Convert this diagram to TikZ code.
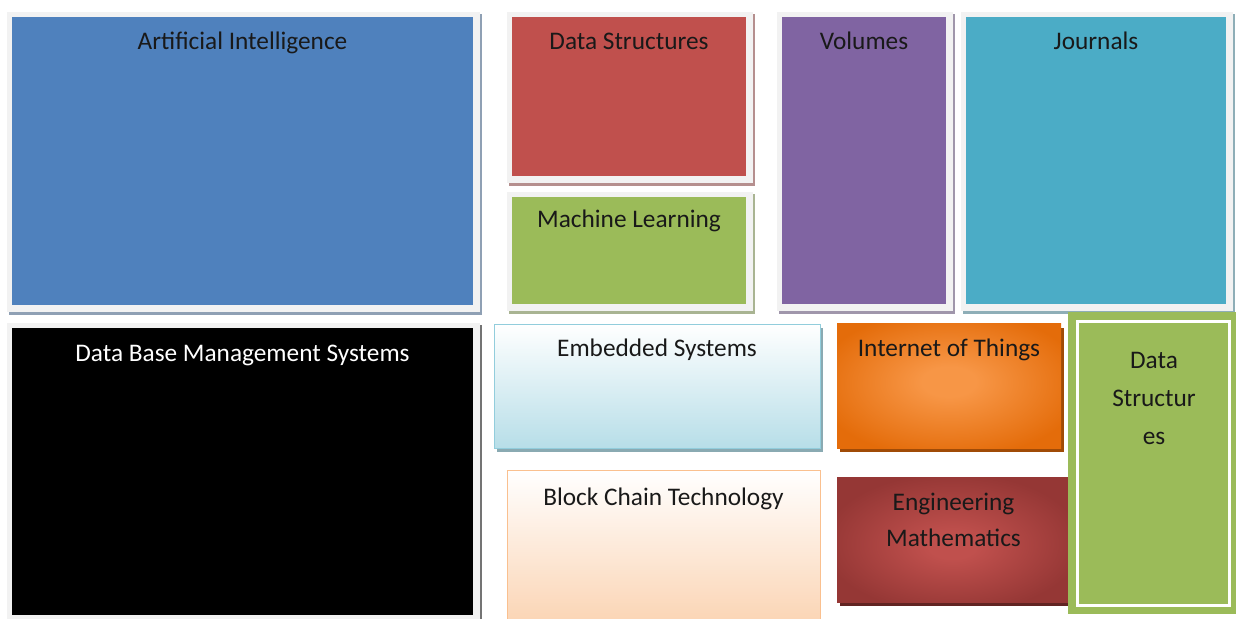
\documentclass[tikz,border=0pt]{standalone}
\usepackage{fontspec}
\setmainfont{Carlito}
\usetikzlibrary{calc,backgrounds}

\definecolor{aiblue}{HTML}{4F81BD}
\definecolor{dsred}{HTML}{C0504D}
\definecolor{mlgreen}{HTML}{9BBB59}
\definecolor{volpurple}{HTML}{8064A2}
\definecolor{jrnteal}{HTML}{4BACC6}
\definecolor{esblue}{HTML}{B7DEE8}
\definecolor{esline}{HTML}{92CDDC}
\definecolor{bcpeach}{HTML}{FBD5B5}
\definecolor{bcline}{HTML}{FAC08F}
\definecolor{iotlight}{HTML}{F79646}
\definecolor{iotdark}{HTML}{E46C0A}
\definecolor{emlight}{HTML}{C0504D}
\definecolor{emdark}{HTML}{953735}

% soft glow in the middle of a tile
\pgfdeclareradialshading{iotglow}{\pgfpoint{0bp}{2bp}}{color(0bp)=(iotlight); color(6bp)=(iotlight); color(30bp)=(iotdark); color(50bp)=(iotdark)}
\pgfdeclareradialshading{emglow}{\pgfpoint{0bp}{-3bp}}{color(0bp)=(emlight); color(5bp)=(emlight); color(28bp)=(emdark); color(50bp)=(emdark)}

\tikzset{
  tile/.style={
    rectangle,
    anchor=north west,
    inner sep=0mm,
    outer sep=0mm
  },
  caption/.style={
    anchor=base,
    align=center,
    inner sep=0mm,
    font=\fontsize{14.4}{20}\selectfont,
    text=black!90
  }
}

\begin{document}
\begin{tikzpicture}[x=0.2mm,y=-0.2mm]
    \useasboundingbox (0,0) rectangle (1236,619);

    % upper row
    \node[tile,fill=aiblue,minimum width=92.2mm,minimum height=57.6mm] (ai) at (12,17) {};
    \node[tile,fill=dsred,minimum width=46.8mm,minimum height=31.8mm] (ds) at (512,17) {};
    \node[tile,fill=mlgreen,minimum width=46.8mm,minimum height=21.4mm] (ml) at (512,197) {};
    \node[tile,fill=volpurple,minimum width=32.8mm,minimum height=57.4mm] (vol) at (782,17) {};
    \node[tile,fill=jrnteal,minimum width=52mm,minimum height=57.4mm] (jrn) at (966,17) {};

    % lower row
    \node[tile,fill=black,minimum width=92.2mm,minimum height=57.4mm] (db) at (12,328) {};
    \node[tile,draw=esline,top color=white,bottom color=esblue,minimum width=65.2mm,minimum height=24.8mm] (es) at (494,324) {};
    \node[tile,draw=bcline,top color=white,bottom color=bcpeach,minimum width=62.6mm,minimum height=30.4mm] (bc) at (507,470) {};
    \node[tile,shading=iotglow,minimum width=44.8mm,minimum height=24.8mm] (iot) at (837,324) {};
    \node[tile,shading=emglow,minimum width=46.2mm,minimum height=25mm] (em) at (837,477) {};
    \node[tile,fill=mlgreen,minimum width=33.6mm,minimum height=60.4mm] (dsg) at (1068,312) {};
    \draw[white,line width=0.6mm] ($(dsg.north west)+(9,10)$) rectangle ($(dsg.south east)+(-7,-9)$);

    % captions (base of the last line)
    \node[caption] (ai-t) at ($(ai.north)+(0,33)$) {Artificial Intelligence};
    \node[caption] (ds-t) at ($(ds.north)+(0,33)$) {Data Structures};
    \node[caption] (ml-t) at ($(ml.north)+(0,31)$) {Machine Learning};
    \node[caption] (vol-t) at ($(vol.north)+(0,33)$) {Volumes};
    \node[caption] (jrn-t) at ($(jrn.north)+(0,33)$) {Journals};
    \node[caption,text=white] (db-t) at ($(db.north)+(0,34)$) {Data Base Management Systems};
    \node[caption] (es-t) at ($(es.north)+(0,33)$) {Embedded Systems};
    \node[caption] (bc-t) at ($(bc.north)+(0,35)$) {Block Chain Technology};
    \node[caption] (iot-t) at ($(iot.north)+(0,33)$) {Internet of Things};
    \node[caption] (em-t) at ($(em.north)+(1,69)$) {Engineering\\Mathematics};
    \node[caption,font=\fontsize{14.4}{21.5}\selectfont] (dsg-t) at ($(dsg.north)+(2,132)$) {Data\\Structur\\es};

    % grey frames and drop shadows
    \begin{scope}[on background layer]
        \fill[white] (0,0) rectangle (1236,619);
        \foreach \t/\c in {ai/aiblue,db/black,ds/dsred,ml/mlgreen,vol/volpurple,jrn/jrnteal}{
            \fill[\c!45!gray!75] ($(\t.north west)+(-3,-3)$) rectangle ($(\t.south east)+(9,10)$);
            \fill[black!5] ($(\t.north west)+(-5,-5)$) rectangle ($(\t.south east)+(7,7)$);
        }
        \fill[esline!55!gray] ($(es.north west)+(3,4)$) rectangle ($(es.south east)+(3,4)$);
        \fill[iotdark!70!black] ($(iot.north west)+(3,4)$) rectangle ($(iot.south east)+(3,4)$);
        \fill[emdark!65!black] ($(em.north west)+(3,4)$) rectangle ($(em.south east)+(3,4)$);
    \end{scope}
\end{tikzpicture}
\end{document}
